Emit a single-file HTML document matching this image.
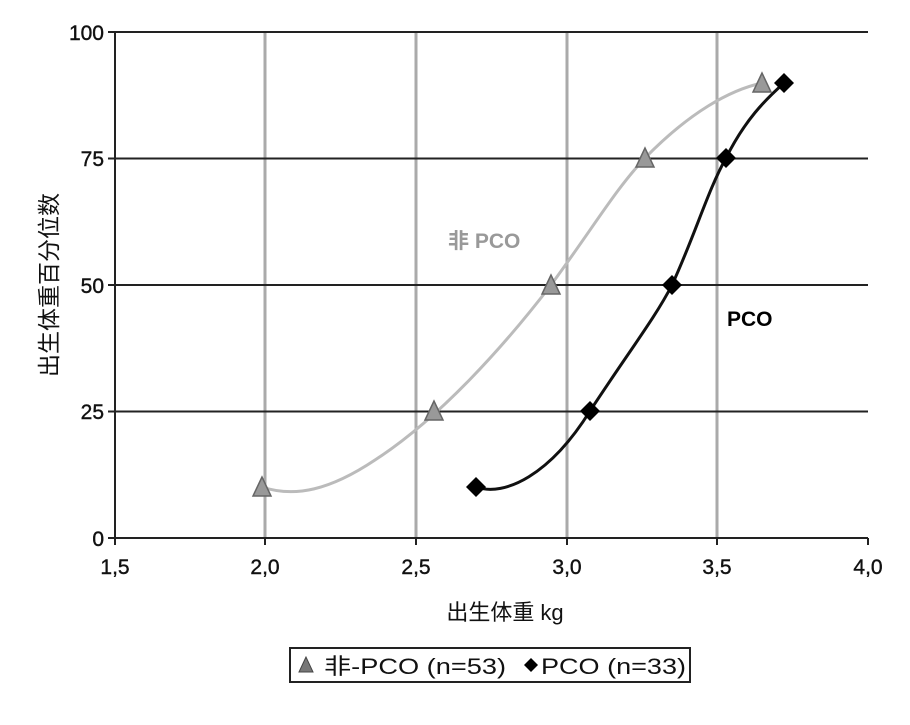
<!DOCTYPE html>
<html><head><meta charset="utf-8"><style>
body{margin:0;background:#fff;}
svg text{font-family:"Liberation Sans","Noto Sans CJK SC",sans-serif;}
</style></head><body>
<svg width="910" height="720" xmlns="http://www.w3.org/2000/svg">
<g stroke="#aaa" stroke-width="3">
<line x1="265" y1="32" x2="265" y2="538"/><line x1="416" y1="32" x2="416" y2="538"/>
<line x1="567" y1="32" x2="567" y2="538"/><line x1="717" y1="32" x2="717" y2="538"/>
</g>
<g stroke="#222" stroke-width="2">
<line x1="108" y1="32" x2="868" y2="32"/><line x1="108" y1="158.5" x2="868" y2="158.5"/>
<line x1="108" y1="285" x2="868" y2="285"/><line x1="108" y1="411.5" x2="868" y2="411.5"/>
<line x1="108" y1="538" x2="868" y2="538"/>
<line x1="115" y1="32" x2="115" y2="545"/>
<line x1="265" y1="538" x2="265" y2="545"/><line x1="416" y1="538" x2="416" y2="545"/>
<line x1="567" y1="538" x2="567" y2="545"/><line x1="717" y1="538" x2="717" y2="545"/><line x1="868" y1="538" x2="868" y2="545"/>
</g>
<g font-size="21" fill="#111" text-anchor="end" stroke="#111" stroke-width="0.4">
<text x="104" y="40">100</text><text x="104" y="166">75</text><text x="104" y="293">50</text><text x="104" y="419">25</text><text x="104" y="546">0</text>
</g>
<g font-size="21" fill="#111" text-anchor="middle" stroke="#111" stroke-width="0.4">
<text x="115" y="574">1,5</text><text x="265" y="574">2,0</text><text x="416" y="574">2,5</text><text x="567" y="574">3,0</text><text x="717" y="574">3,5</text><text x="868" y="574">4,0</text>
</g>
<text x="505" y="620" font-size="22" text-anchor="middle" fill="#111">出生体重 kg</text>
<text transform="translate(57,285) rotate(-90)" font-size="23" text-anchor="middle" fill="#111">出生体重百分位数</text>
<path d="M262,487 C295,498 330,490 375,460 C440,418 505,345 551,285 C595,225 615,190 645,158 C690,112 730,90 762,83" fill="none" stroke="#bbb" stroke-width="3"/>
<path d="M476,487 C505,497 550,475 590,411 C630,350 655,318 672,285 C695,235 708,190 726,158 C745,120 765,100 784,83" fill="none" stroke="#111" stroke-width="3"/>
<g fill="#999" stroke="#666" stroke-width="1.5">
<polygon points="262,477 253,496 271,496"/><polygon points="434,401 425,420 443,420"/><polygon points="551,275 542,294 560,294"/><polygon points="645,148 636,167 654,167"/><polygon points="762,73 753,92 771,92"/>
</g>
<g fill="#000">
<polygon points="476,477 486,487 476,497 466,487"/><polygon points="590,401 600,411 590,421 580,411"/><polygon points="672,275 682,285 672,295 662,285"/><polygon points="726,148 736,158 726,168 716,158"/><polygon points="784,73 794,83 784,93 774,83"/>
</g>
<text x="448" y="248" font-size="21" fill="#999" font-weight="bold">非 PCO</text>
<text x="727" y="326" font-size="21" fill="#000" font-weight="bold">PCO</text>
<rect x="290" y="648" width="400" height="34" fill="#fff" stroke="#222" stroke-width="2"/>
<polygon points="306,657 299,672 313,672" fill="#777" stroke="#444"/>
<text x="324" y="674" font-size="22" fill="#111" textLength="182" lengthAdjust="spacingAndGlyphs">非-PCO (n=53)</text>
<polygon points="531,658 538,665 531,672 524,665" fill="#000"/>
<text x="541" y="674" font-size="22" fill="#111" textLength="145" lengthAdjust="spacingAndGlyphs">PCO (n=33)</text>
</svg>
</body></html>
